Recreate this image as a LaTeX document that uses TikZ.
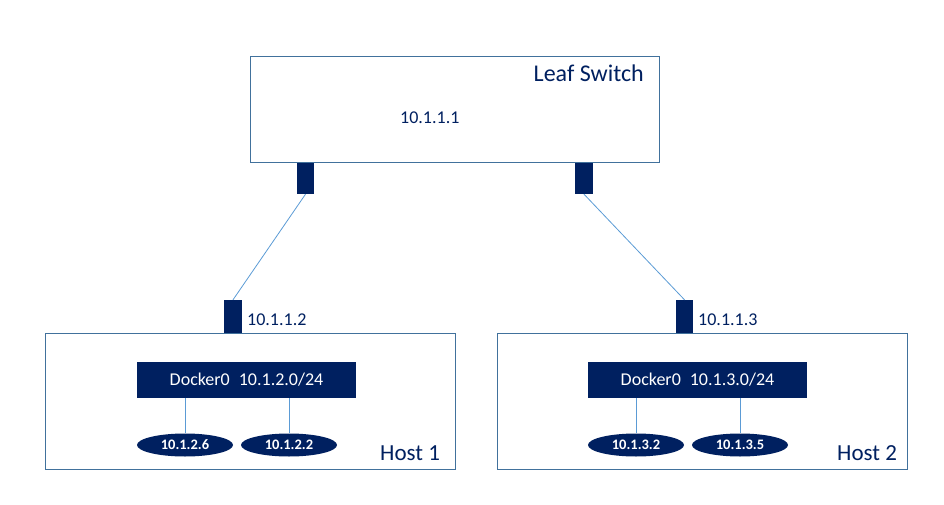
\documentclass[tikz,border=0pt]{standalone}
\usepackage{fontspec}
\setmainfont{Carlito}
\usetikzlibrary{shapes.geometric}
\definecolor{navy}{HTML}{002060}
\definecolor{edgeblue}{HTML}{41719C}
\definecolor{linkblue}{HTML}{5B9BD5}
\tikzset{
	box/.style={draw=edgeblue, line width=1pt, fill=white, inner sep=0pt},
	port/.style={fill=navy, inner sep=0pt, minimum width=17.5pt, minimum height=32pt},
	bridge/.style={fill=navy, text=white, inner sep=0pt, minimum width=219pt, minimum height=36pt, font=\fontsize{18}{20}\selectfont},
	vm/.style={ellipse, fill=navy, text=white, inner sep=0pt, minimum width=96pt, minimum height=23pt, font=\fontsize{14.5}{16}\selectfont\bfseries},
	link/.style={draw=linkblue, line width=0.8pt},
	lbl/.style={text=navy, inner sep=0pt}
}

\begin{document}
\begin{tikzpicture}[x=1pt, y=-1pt]
		\useasboundingbox (0,0) rectangle (944,505);

		\node [box, minimum width=409pt, minimum height=106pt] (leaf) at (454.5,110) {};
		\node [box, minimum width=410pt, minimum height=136pt] (host1) at (250,401) {};
		\node [box, minimum width=410pt, minimum height=136pt] (host2) at (702,401) {};

		\node [lbl, anchor=base east, font=\fontsize{24}{26}\selectfont] (leaftxt) at (644,82) {Leaf Switch};
		\node [lbl, anchor=base west, font=\fontsize{18}{20}\selectfont] (leafip) at (400,124) {10.1.1.1};
		\node [lbl, anchor=base west, font=\fontsize{23}{25}\selectfont] (host1txt) at (380,460) {Host 1};
		\node [lbl, anchor=base west, font=\fontsize{23}{25}\selectfont] (host2txt) at (837,460) {Host 2};

		\node [port, minimum height=31pt] (lp1) at (305.5,178.5) {};
		\node [port, minimum height=31pt] (lp2) at (584,178.5) {};
		\node [port, minimum height=33pt] (hp1) at (233,316.5) {};
		\node [port, minimum height=33pt] (hp2) at (684.5,316.5) {};

		\node [lbl, anchor=base west, font=\fontsize{18}{20}\selectfont] (hp1ip) at (247,325) {10.1.1.2};
		\node [lbl, anchor=base west, font=\fontsize{18}{20}\selectfont] (hp2ip) at (698,325) {10.1.1.3};

		\node [bridge] (dock1) at (246.5,380) {Docker0\enspace 10.1.2.0/24};
		\node [bridge] (dock2) at (697.5,380) {Docker0\enspace 10.1.3.0/24};

		\node [vm] (vm16) at (185,445) {10.1.2.6};
		\node [vm] (vm12) at (289,445) {10.1.2.2};
		\node [vm] (vm32) at (636,445) {10.1.3.2};
		\node [vm] (vm35) at (740,445) {10.1.3.5};

		\draw [link] (lp1.south) to (hp1.north);
		\draw [link] (lp2.south) to (hp2.north);

		\draw [link] (vm16.north |- dock1.south) to (vm16.north);
		\draw [link] (vm12.north |- dock1.south) to (vm12.north);
		\draw [link] (vm32.north |- dock2.south) to (vm32.north);
		\draw [link] (vm35.north |- dock2.south) to (vm35.north);
	\end{tikzpicture}
\end{document}
